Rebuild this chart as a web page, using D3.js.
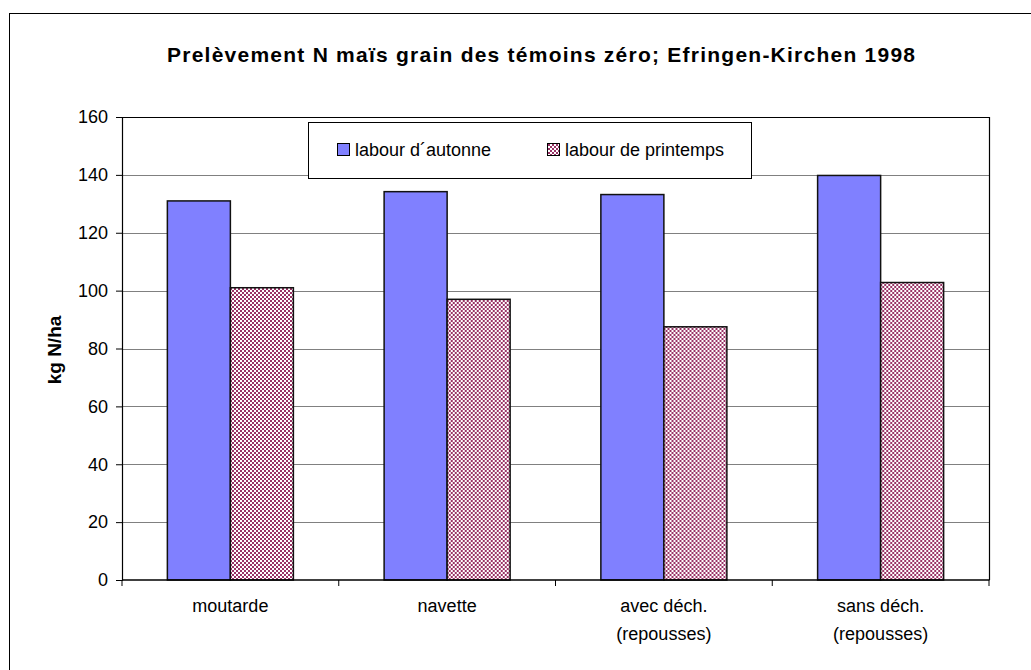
<!DOCTYPE html>
<meta charset="utf-8">
<script src="https://d3js.org/d3.v7.min.js"></script>
<style>
  body { margin: 0; background: #fff; }
  text { font-family: "Liberation Sans", Arial, sans-serif; }
</style>
<div id="chart"></div>
<script>
// data
var categories = [["moutarde"], ["navette"], ["avec déch.", "(repousses)"], ["sans déch.", "(repousses)"]];
var series = ["labour d´autonne", "labour de printemps"];
var automne = [131, 134.2, 133.2, 139.8];
var printemps = [101, 97, 87.5, 102.8];
var yTicks = [0, 20, 40, 60, 80, 100, 120, 140, 160];

var width = 1031, height = 670;
var svg = d3.select("#chart").append("svg").attr("width", width).attr("height", height);

// checker pattern for second series
var defs = svg.append("defs");
var pat = defs.append("pattern").attr("id", "checker")
    .attr("patternUnits", "userSpaceOnUse").attr("width", 4).attr("height", 4);
pat.append("rect").attr("width", 4).attr("height", 4).attr("fill", "#fff");
pat.append("rect").attr("width", 2).attr("height", 2).attr("fill", "#993366");
pat.append("rect").attr("x", 2).attr("y", 2).attr("width", 2).attr("height", 2).attr("fill", "#993366");

// outer chart border
svg.append("rect").attr("x", 9.5).attr("y", 13.5).attr("width", 1100).attr("height", 1000)
    .attr("fill", "none").attr("stroke", "#000");

var pLeft = 122, pRight = 989, pTop = 117, pBottom = 580;

var y = d3.scaleLinear().domain([0, 160]).range([pBottom, pTop]);
var x0 = d3.scaleBand().domain(d3.range(categories.length)).range([pLeft, pRight]);
var x1 = d3.scaleBand().domain(series).range([0, x0.bandwidth()]).paddingInner(0).paddingOuter(0.72);

// gridlines
svg.append("g").selectAll("line").data(yTicks.filter(function(d){ return d > 0 && d < 160; }))
  .enter().append("line")
    .attr("x1", pLeft).attr("x2", pRight)
    .attr("y1", function(d){ return Math.round(y(d)) + 0.5; })
    .attr("y2", function(d){ return Math.round(y(d)) + 0.5; })
    .attr("stroke", "#808080").attr("stroke-width", 1.2);

// plot area top and right border
svg.append("path")
    .attr("d", "M" + pLeft + "," + (pTop + 0.5) + "H" + (pRight + 0.5) + "V" + pBottom)
    .attr("fill", "none").attr("stroke", "#000").attr("stroke-width", 1.2);

// bars
var groups = svg.append("g").selectAll("g").data(categories).enter().append("g")
    .attr("transform", function(d, i){ return "translate(" + x0(i) + ",0)"; });
groups.selectAll("rect")
  .data(function(d, i){ return [{s: series[0], v: automne[i]}, {s: series[1], v: printemps[i]}]; })
  .enter().append("rect")
    .attr("x", function(d){ return x1(d.s); })
    .attr("y", function(d){ return y(d.v); })
    .attr("width", x1.bandwidth())
    .attr("height", function(d){ return y(0) - y(d.v); })
    .attr("fill", function(d){ return d.s === series[0] ? "#8080ff" : "url(#checker)"; })
    .attr("stroke", "#111").attr("stroke-width", 1.5);

// y axis
var yAxis = svg.append("g").attr("transform", "translate(" + pLeft + ",0)")
    .call(d3.axisLeft(y).tickValues(yTicks).tickSize(6).tickPadding(8));
yAxis.select(".domain").attr("stroke", "#000").attr("stroke-width", 1.2);
yAxis.selectAll("line").attr("stroke", "#000");
yAxis.selectAll("text").style("font-size", "18px").attr("fill", "#000");

// x axis
var xAxis = svg.append("g").attr("transform", "translate(0," + pBottom + ")");
xAxis.append("line").attr("x1", pLeft).attr("x2", pRight + 0.5).attr("stroke", "#000").attr("stroke-width", 1.5);
xAxis.selectAll(".tk").data(d3.range(categories.length + 1)).enter().append("line")
    .attr("x1", function(d){ return pLeft + d * x0.step(); })
    .attr("x2", function(d){ return pLeft + d * x0.step(); })
    .attr("y1", 0).attr("y2", 6).attr("stroke", "#000");
var lbl = xAxis.selectAll(".lbl").data(categories).enter().append("text")
    .attr("text-anchor", "middle")
    .attr("x", function(d, i){ return x0(i) + x0.bandwidth() / 2; })
    .style("font-size", "18px");
lbl.selectAll("tspan").data(function(d){ return d; }).enter().append("tspan")
    .attr("x", function(){ return this.parentNode.getAttribute("x"); })
    .attr("y", function(d, i){ return 32 + i * 28; })
    .text(function(d){ return d; });

// y title
svg.append("text").attr("transform", "translate(61,350) rotate(-90)")
    .attr("text-anchor", "middle").style("font-size", "19px").style("font-weight", "bold")
    .text("kg N/ha");

// title
svg.append("text").attr("x", 541).attr("y", 62).attr("text-anchor", "middle")
    .style("font-size", "21px").style("font-weight", "bold")
    .attr("textLength", 748).attr("lengthAdjust", "spacing")
    .text("Prelèvement N maïs grain des témoins zéro; Efringen-Kirchen 1998");

// legend
var lg = svg.append("g");
lg.append("rect").attr("x", 308.5).attr("y", 122.5).attr("width", 443).attr("height", 56)
    .attr("fill", "#fff").attr("stroke", "#000");
var legX = [337, 547];
series.forEach(function(s, i){
  lg.append("rect").attr("x", legX[i] + 0.5).attr("y", 143.5).attr("width", 12).attr("height", 12)
      .attr("fill", i === 0 ? "#8080ff" : "url(#checker)").attr("stroke", "#000");
  lg.append("text").attr("x", legX[i] + 18).attr("y", 156).style("font-size", "18px").text(s);
});
</script>
